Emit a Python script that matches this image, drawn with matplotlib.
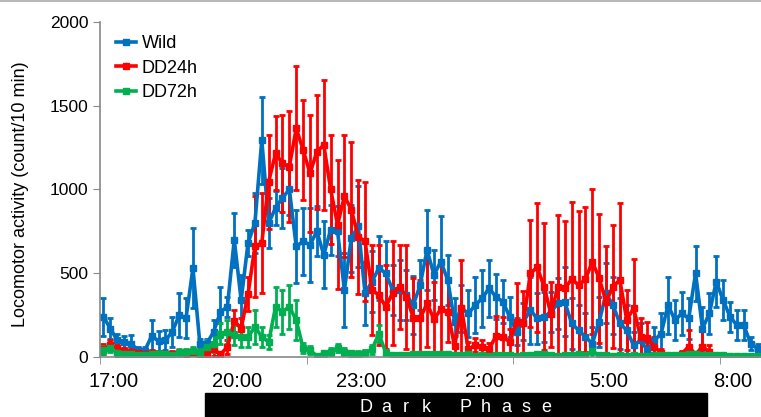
import numpy as np
import matplotlib
matplotlib.use("Agg")
import matplotlib.pyplot as plt
from matplotlib.patches import Rectangle
from matplotlib.lines import Line2D

plt.rcParams['font.family'] = ['Liberation Sans', 'DejaVu Sans']

# 10-min bins from 16:50 onward
wild = [240, 170, 100, 90, 80, 42, 38, 125, 95, 100, 150, 250, 235, 530, 80, 80,
        150, 270, 300, 700, 340, 680, 800, 1295, 800, 890, 950, 1000, 660, 690, 670, 750,
        610, 760, 750, 400, 710, 780, 380, 450, 530, 500, 400, 400, 370, 310, 430, 640,
        490, 570, 460, 210, 290, 260, 310, 350, 410, 360, 330, 240, 150, 210, 280, 230,
        240, 270, 320, 330, 200, 160, 120, 80, 210, 380, 310, 200, 160, 70, 100, 40,
        100, 140, 310, 220, 260, 230, 500, 170, 260, 450, 340, 240, 190, 190, 80, 50]
wild_err = [115, 60, 40, 35, 50, 20, 20, 95, 60, 60, 90, 130, 120, 240, 30, 30,
            70, 150, 60, 160, 150, 80, 180, 260, 150, 100, 180, 150, 220, 200, 220, 150,
            200, 150, 150, 220, 200, 240, 190, 180, 190, 190, 150, 180, 150, 175, 150, 240,
            150, 270, 150, 140, 140, 140, 165, 170, 170, 135, 130, 120, 80, 110, 200, 150,
            150, 120, 150, 205, 150, 150, 140, 100, 150, 180, 170, 150, 150, 80, 100, 50,
            80, 120, 170, 120, 130, 120, 165, 130, 120, 150, 120, 90, 90, 90, 40, 30]

dd24 = [50, 70, 55, 35, 30, 25, 20, 25, 20, 15, 20, 25, 10, 30, 15, 20,
        45, 15, 60, 215, 170, 375, 660, 680, 1047, 1216, 1156, 1136, 1365, 1236, 1097, 1226,
        1266, 1000, 790, 960, 880, 718, 690, 400, 370, 300, 380, 420, 360, 235, 230, 320,
        225, 285, 270, 65, 290, 45, 72, 62, 45, 125, 121, 90, 211, 205, 500, 535,
        420, 255, 420, 410, 464, 430, 464, 569, 470, 330, 420, 460, 221, 291, 121, 111,
        62, 22, 5, 5, 20, 62, 15, 62, 30, 5, 3, 2, 2, 2, 2, 2]
dd24_err = [30, 30, 25, 20, 20, 15, 15, 15, 15, 10, 15, 15, 10, 20, 10, 15,
            40, 10, 40, 65, 60, 100, 300, 300, 280, 220, 290, 330, 370, 300, 350, 340,
            390, 325, 385, 365, 405, 340, 357, 270, 300, 250, 310, 250, 310, 235, 230, 260,
            220, 295, 180, 60, 290, 45, 40, 40, 40, 120, 120, 80, 230, 190, 319, 383,
            378, 195, 428, 404, 459, 444, 433, 432, 384, 333, 368, 457, 180, 292, 110, 100,
            60, 25, 5, 5, 15, 100, 15, 100, 40, 5, 3, 2, 2, 2, 2, 2]

dd72 = [40, 55, 25, 15, 15, 10, 10, 15, 20, 15, 10, 25, 30, 35, 25, 60,
        80, 140, 150, 130, 120, 120, 180, 120, 90, 300, 270, 300, 220, 52, 42, 5,
        22, 32, 52, 32, 22, 20, 25, 45, 140, 25, 10, 10, 10, 15, 15, 15,
        15, 20, 15, 10, 10, 20, 5, 10, 5, 10, 10, 10, 5, 10, 10, 15,
        15, 10, 5, 10, 10, 15, 10, 35, 10, 10, 5, 10, 5, 10, 5, 5,
        10, 10, 10, 10, 10, 15, 15, 10, 10, 10, 10, 5, 5, 5, 5, 5]
dd72_err = [25, 25, 20, 15, 15, 10, 10, 15, 15, 15, 10, 20, 20, 25, 20, 40,
            50, 60, 70, 60, 60, 60, 100, 60, 40, 120, 130, 130, 120, 30, 25, 5,
            15, 20, 25, 20, 15, 15, 15, 25, 50, 15, 10, 10, 10, 10, 10, 10,
            10, 10, 10, 10, 10, 10, 5, 10, 5, 10, 10, 10, 5, 10, 10, 10,
            10, 10, 5, 10, 10, 10, 10, 20, 10, 10, 5, 10, 5, 10, 5, 5,
            10, 10, 10, 10, 10, 10, 10, 10, 10, 10, 10, 5, 5, 5, 5, 5]

tick_labels = ["17:00", "20:00", "23:00", "2:00", "5:00", "8:00"]

x = np.arange(len(wild))

fig = plt.figure(figsize=(7.61, 4.17), dpi=100)
ax = fig.add_axes([0.1314, 0.1439, 0.8686, 0.8034])

series = [("Wild", wild, wild_err, "#0070C0"),
          ("DD24h", dd24, dd24_err, "#FF0000"),
          ("DD72h", dd72, dd72_err, "#00B050")]
handles = []
for name, y, e, c in series:
    ax.errorbar(x, y, yerr=e, color=c, lw=2.6, marker='s', ms=5,
                elinewidth=2, capsize=2.2, capthick=2)
    handles.append(Line2D([], [], color=c, lw=2.6, marker='s', ms=5, label=name))

ax.set_xlim(-0.4, 95.5)
ax.set_ylim(0, 2000)
ax.set_yticks([0, 500, 1000, 1500, 2000])
ax.set_xticks(1.4 + 18 * np.arange(len(tick_labels)))
ax.set_xticklabels(tick_labels)
ax.set_xticks([-0.5, 29.5, 59.5, 89.5], minor=True)
ax.tick_params(axis='x', which='major', length=0, labelsize=14.5, pad=11)
ax.tick_params(axis='x', which='minor', length=5, color='#888888')
ax.tick_params(axis='y', length=5, color='#888888', labelsize=12.5)
for s in ['top', 'right']:
    ax.spines[s].set_visible(False)
for s in ['left', 'bottom']:
    ax.spines[s].set_color('#888888')
    ax.spines[s].set_linewidth(1.2)
ax.set_ylabel("Locomotor activity (count/10 min)", fontsize=13)
ax.yaxis.set_label_coords(-0.108, 0.487)

ax.legend(handles=handles, loc='upper left', frameon=False, fontsize=13,
          bbox_to_anchor=(0.0, 1.009), handlelength=1.1, handletextpad=0.3,
          labelspacing=0.42)

# dark phase bar
fig.patches.append(Rectangle((205 / 761, 0), 502 / 761, 24 / 417,
                             transform=fig.transFigure, color='black'))
letters = "Dark Phase"
lx = 366
for ch in letters:
    if ch != " ":
        fig.text(lx / 761, 10 / 417, ch, color='white', ha='center',
                 va='center', fontsize=13)
    lx += 20
fig.lines.append(Line2D([0, 1], [0.998, 0.998], transform=fig.transFigure,
                        color='#aaaaaa', lw=1.2))

fig.savefig("out.png", dpi=100)
